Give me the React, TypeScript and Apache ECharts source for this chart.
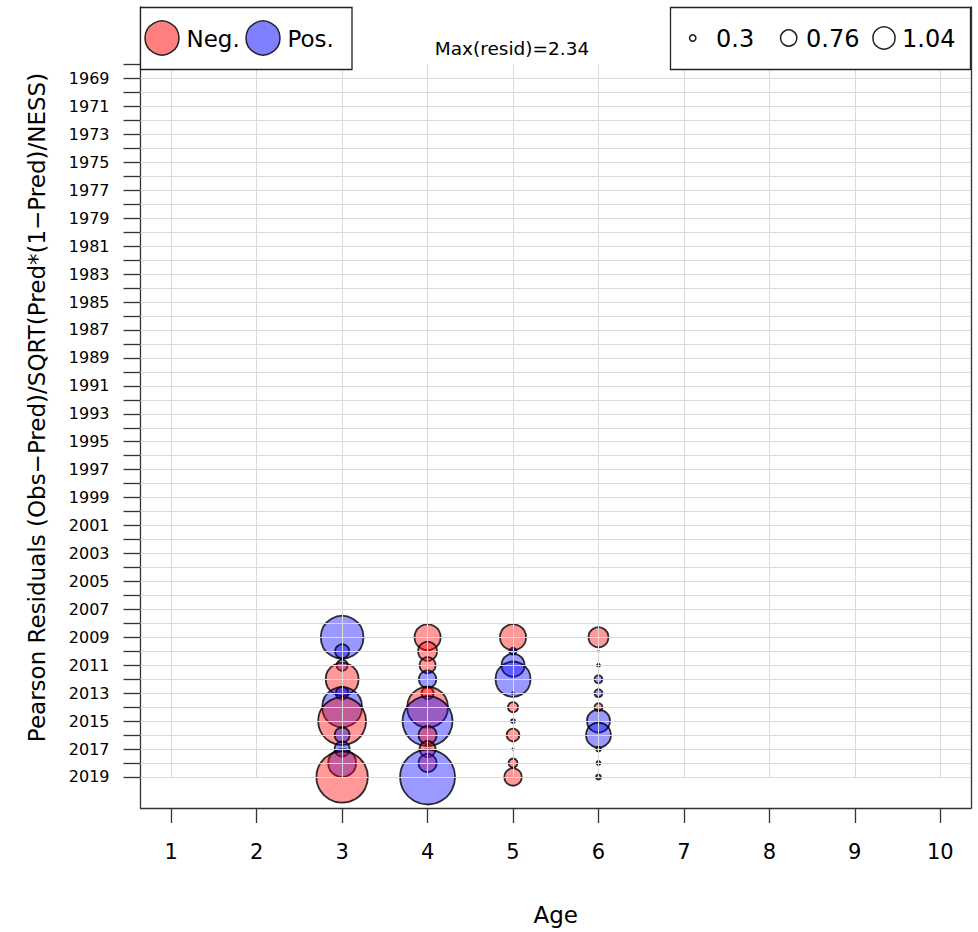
import React, { useEffect, useRef } from "react";
import * as echarts from "echarts";

// ---- data ----
const ages = [3, 4, 5, 6];
const years = [2009, 2010, 2011, 2012, 2013, 2014, 2015, 2016, 2017, 2018, 2019];
const residAge3 = [1.82, 0.6, 0.47, -1.4, 0.54, 1.7, -2.04, 0.64, 0.64, 1.19, -2.19];
const residAge4 = [-1.11, -0.81, -0.68, 0.74, -0.51, -1.74, 2.13, -0.77, -0.68, -0.77, 2.34];
const residAge5 = [-1.11, 0.3, 0.98, 1.49, 0.09, -0.43, 0.17, -0.54, -0.06, -0.38, -0.74];
const residAge6 = [-0.85, 0.04, 0.13, 0.34, 0.34, -0.34, 0.98, 1.06, 0.21, 0.17, 0.21];
const residByAge = [residAge3, residAge4, residAge5, residAge6];

const xTicks = [1, 2, 3, 4, 5, 6, 7, 8, 9, 10];
const yLabelYears = [
  1969, 1971, 1973, 1975, 1977, 1979, 1981, 1983, 1985, 1987, 1989, 1991, 1993,
  1995, 1997, 1999, 2001, 2003, 2005, 2007, 2009, 2011, 2013, 2015, 2017, 2019,
];
const firstGridYear = 1968;
const lastGridYear = 2019;
const sizeLegendValues = [0.3, 0.76, 1.04];
const maxResid = 2.34;

const FONT = "DejaVu Sans";
const PX_PER_UNIT = 23.5; // bubble diameter per residual unit
const LEGEND_PX_PER_UNIT = 21.3;

export default function App() {
  const ref = useRef<HTMLDivElement>(null);

  useEffect(() => {
    document.body.style.margin = "0";
    if (!ref.current) return;
    const chart = echarts.init(ref.current, undefined, { renderer: "svg" });

    const tickYears: number[] = [];
    for (let y = firstGridYear; y <= lastGridYear; y++) tickYears.push(y);

    const bubbleData: any[] = [];
    ages.forEach((age, ai) => {
      residByAge[ai].forEach((r, yi) => {
        bubbleData.push({
          value: [age, years[yi], r],
          itemStyle: { color: r < 0 ? "rgba(255,0,0,0.5)" : "rgba(0,0,255,0.5)" },
        });
      });
    });

    const hLines = tickYears.filter((y) => y >= 1969).map((y) => ({ yAxis: y }));
    const vLines = xTicks.map((a) => [
      { coord: [a, firstGridYear] },
      { coord: [a, lastGridYear] },
    ]);

    const axisLineStyle = { color: "#333", width: 1.3 };
    const textCol = "#000";

    // size legend graphics
    const sizeLegendX = [692.7, 788.7, 884];
    const sizeTextX = [716, 806, 902];
    const sizeGraphics: any[] = [];
    sizeLegendValues.forEach((v, i) => {
      sizeGraphics.push({
        type: "circle",
        shape: { cx: sizeLegendX[i], cy: 38, r: (v * LEGEND_PX_PER_UNIT) / 2 },
        style: { fill: "none", stroke: "#222", lineWidth: 1.5 },
        z: 21,
      });
      sizeGraphics.push({
        type: "text",
        x: sizeTextX[i],
        y: 39,
        style: {
          text: String(v),
          fontSize: 24,
          fontFamily: FONT,
          fill: textCol,
          verticalAlign: "middle",
          align: "left",
        },
        z: 21,
      });
    });

    const option: any = {
      animation: false,
      backgroundColor: "#fff",
      grid: { left: 140.5, right: 7, top: 7, bottom: 124, containLabel: false },
      xAxis: {
        type: "value",
        min: 0.64,
        max: 10.36,
        axisLine: { show: true, onZero: false, lineStyle: axisLineStyle },
        axisTick: { show: true, length: 15, customValues: xTicks, lineStyle: axisLineStyle },
        axisLabel: {
          customValues: xTicks,
          margin: 33,
          fontSize: 21,
          fontFamily: FONT,
          color: textCol,
          formatter: (v: number) => String(Math.round(v)),
        },
        splitLine: { show: false },
        name: "Age",
        nameLocation: "middle",
        nameGap: 95,
        nameTextStyle: { fontSize: 23, fontFamily: FONT, color: textCol },
      },
      yAxis: [
        {
          type: "value",
          inverse: true,
          min: 1963.88,
          max: 2021.22,
          axisLine: { show: true, onZero: false, lineStyle: axisLineStyle },
          axisTick: { show: true, length: 17, customValues: tickYears, lineStyle: axisLineStyle },
          axisLabel: {
            customValues: yLabelYears,
            margin: 31,
            fontSize: 16,
            fontFamily: FONT,
            color: textCol,
            formatter: (v: number) => String(Math.round(v)),
          },
          splitLine: { show: false },
          name: "Pearson Residuals (Obs\u2212Pred)/SQRT(Pred*(1\u2212Pred)/NESS)",
          nameLocation: "middle",
          nameRotate: 90,
          nameGap: 92,
          nameTextStyle: { fontSize: 23, fontFamily: FONT, color: textCol },
        },
        {
          type: "value",
          inverse: true,
          position: "right",
          min: 1963.88,
          max: 2021.22,
          axisLine: { show: true, onZero: false, lineStyle: axisLineStyle },
          axisTick: { show: false },
          axisLabel: { show: false },
          splitLine: { show: false },
        },
      ],
      series: [
        {
          type: "scatter",
          data: [],
          z: 1,
          silent: true,
          markLine: {
            silent: true,
            symbol: ["none", "none"],
            label: { show: false },
            lineStyle: { color: "#dadada", width: 1, type: "solid" },
            data: [...hLines, ...vLines],
          },
        },
        {
          type: "scatter",
          z: 3,
          data: bubbleData,
          symbol: "circle",
          symbolSize: (val: number[]) => Math.abs(val[2]) * PX_PER_UNIT,
          itemStyle: { borderColor: "#000", borderWidth: 1.8 },
        },
      ],
      graphic: [
        {
          type: "rect",
          shape: { x: 140.5, y: 7.5, width: 211.5, height: 62 },
          style: { fill: "#fff", stroke: "#222", lineWidth: 1.3 },
          z: 20,
        },
        {
          type: "circle",
          shape: { cx: 162, cy: 38, r: 17 },
          style: { fill: "rgba(255,0,0,0.5)", stroke: "#222", lineWidth: 1.5 },
          z: 21,
        },
        {
          type: "text",
          x: 186.5,
          y: 39,
          style: { text: "Neg.", fontSize: 23, fontFamily: FONT, fill: textCol, verticalAlign: "middle" },
          z: 21,
        },
        {
          type: "circle",
          shape: { cx: 263, cy: 38, r: 17 },
          style: { fill: "rgba(0,0,255,0.5)", stroke: "#222", lineWidth: 1.5 },
          z: 21,
        },
        {
          type: "text",
          x: 287.5,
          y: 39,
          style: { text: "Pos.", fontSize: 23, fontFamily: FONT, fill: textCol, verticalAlign: "middle" },
          z: 21,
        },
        {
          type: "rect",
          shape: { x: 670.5, y: 7.5, width: 300, height: 62 },
          style: { fill: "#fff", stroke: "#222", lineWidth: 1.3 },
          z: 20,
        },
        ...sizeGraphics,
        {
          type: "text",
          x: 512,
          y: 48,
          style: {
            text: "Max(resid)=" + maxResid,
            fontSize: 18.5,
            fontFamily: FONT,
            fill: textCol,
            align: "center",
            verticalAlign: "middle",
          },
          z: 21,
        },
      ],
    };

    chart.setOption(option);
    return () => chart.dispose();
  }, []);

  return <div ref={ref} style={{ width: 978, height: 932 }} />;
}
